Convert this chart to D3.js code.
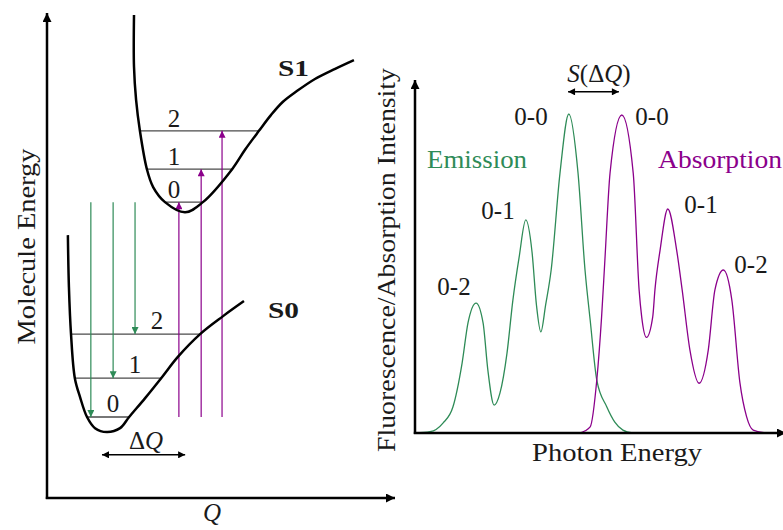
<!DOCTYPE html>
<html>
<head>
<meta charset="utf-8">
<script src="https://cdn.jsdelivr.net/npm/d3@7"></script>
<style>
  body { margin: 0; background: #fff; }
</style>
</head>
<body>
<div id="chart"></div>
<script>
var svgWidth = 783;
var svgHeight = 530;

var green = "#2e8b57";
var purple = "#8b008b";
var serifFont = "Liberation Serif";

// ---- left panel data (Q, energy) ----
var s1Curve = [[2.50, 9.96], [2.50, 8.89], [2.56, 8.21], [2.67, 7.57], [2.87, 6.78], [3.05, 6.41],
  [3.39, 6.10], [3.97, 5.89], [4.48, 6.10], [5.32, 6.78], [5.69, 7.18], [6.09, 7.57],
  [6.44, 7.90], [6.78, 8.17], [7.18, 8.39], [7.70, 8.64], [8.28, 8.85], [8.82, 9.03]];
var s0Curve = [[0.60, 5.42], [0.63, 4.35], [0.69, 3.38], [0.80, 2.47], [0.95, 2.08], [1.15, 1.67],
  [1.38, 1.44], [1.72, 1.36], [2.10, 1.44], [2.36, 1.67], [2.82, 2.06], [3.28, 2.47],
  [3.76, 2.91], [4.40, 3.38], [5.06, 3.75], [5.66, 4.06]];

var levelNames = ["0", "1", "2"];
var s1LevelE = [6.10, 6.78, 7.57];
var s1LevelQ0 = [3.39, 2.87, 2.67];
var s1LevelQ1 = [4.48, 5.32, 6.09];
var s0LevelE = [1.67, 2.47, 3.38];
var s0LevelQ0 = [1.15, 0.80, 0.69];
var s0LevelQ1 = [2.36, 3.28, 4.40];

var emissionQ = [1.26, 1.90, 2.53];
var absorptionQ = [3.79, 4.43, 5.03];

// ---- right panel data (photon energy, intensity) ----
var emissionSpectrum = [[0.0, 0.000], [4.1, 0.004], [7.6, 0.031], [10.3, 0.081], [12.8, 0.218],
  [14.4, 0.343], [16.6, 0.405], [18.5, 0.343], [19.8, 0.196], [21.5, 0.087], [23.1, 0.125],
  [25.0, 0.249], [26.6, 0.414], [28.3, 0.548], [30.1, 0.664], [31.8, 0.564], [33.0, 0.399],
  [34.2, 0.315], [35.5, 0.399], [37.0, 0.508], [39.4, 0.810], [41.8, 0.994], [44.3, 0.810],
  [46.2, 0.508], [47.6, 0.352], [49.4, 0.165], [52.1, 0.082], [54.3, 0.034], [56.5, 0.009],
  [59.2, 0.000]];
var absorptionSpectrum = [[44.8, 0.000], [47.6, 0.019], [49.4, 0.165], [50.7, 0.361], [51.6, 0.539],
  [53.0, 0.810], [56.2, 0.991], [59.3, 0.810], [60.9, 0.446], [61.6, 0.362], [62.9, 0.298],
  [64.6, 0.362], [65.2, 0.446], [66.6, 0.570], [68.7, 0.698], [71.1, 0.570], [72.6, 0.446],
  [74.7, 0.259], [77.2, 0.155], [79.7, 0.259], [81.5, 0.446], [83.8, 0.508], [86.1, 0.414],
  [88.3, 0.156], [90.1, 0.051], [91.9, 0.009], [95.6, 0.000]];

var peakLabels = ["0-0", "0-1", "0-2"];

var svg = d3.select("#chart")
  .append("svg")
  .attr("width", svgWidth)
  .attr("height", svgHeight);

// arrowheads
var defs = svg.append("defs");
function addMarker(id, color, w, h) {
  defs.append("marker")
    .attr("id", id)
    .attr("viewBox", "0 0 10 10")
    .attr("refX", 10)
    .attr("refY", 5)
    .attr("markerUnits", "userSpaceOnUse")
    .attr("markerWidth", w)
    .attr("markerHeight", h)
    .attr("orient", "auto-start-reverse")
    .append("path")
    .attr("d", "M0,0L10,5L0,10z")
    .attr("fill", color);
}
addMarker("arrGreen", green, 8, 7);
addMarker("arrPurple", purple, 8, 7);
addMarker("arrAxis", "#000", 11, 9);
addMarker("arrSmall", "#000", 9, 7);

// scales
var qScale = d3.scaleLinear().domain([0, 10]).range([47, 395]);
var eScale = d3.scaleLinear().domain([0, 10]).range([498, 13]);
var xE = d3.scaleLinear().domain([0, 100]).range([415, 783]);
var yI = d3.scaleLinear().domain([0, 1.1]).range([433, 80]);

function label(g, x, y, str) {
  return g.append("text")
    .attr("x", x).attr("y", y)
    .attr("font-family", serifFont)
    .attr("font-size", 25)
    .attr("fill", "#1a1a1a")
    .text(str);
}

// ===== left panel =====
var left = svg.append("g");

// axes
left.append("line")
  .attr("x1", qScale(0)).attr("y1", eScale(0) + 1)
  .attr("x2", qScale(0)).attr("y2", eScale(10))
  .attr("stroke", "#000").attr("stroke-width", 2.5)
  .attr("marker-end", "url(#arrAxis)");
left.append("line")
  .attr("x1", qScale(0) - 1.2).attr("y1", eScale(0))
  .attr("x2", qScale(10)).attr("y2", eScale(0))
  .attr("stroke", "#000").attr("stroke-width", 2.5)
  .attr("marker-end", "url(#arrAxis)");

label(left, 0, 0, "Molecule Energy")
  .attr("transform", `translate(35, ${(eScale(0) + eScale(10)) / 2 - 9}) rotate(-90)`)
  .attr("text-anchor", "middle")
  .attr("textLength", 196)
  .attr("lengthAdjust", "spacingAndGlyphs");

label(left, 212, 521, "Q")
  .attr("text-anchor", "middle")
  .attr("font-style", "italic");

// vibrational levels
function drawLevels(levelE, q0, q1) {
  left.selectAll(null)
    .data(levelE)
    .enter()
    .append("line")
    .attr("x1", (d, i) => qScale(q0[i]))
    .attr("x2", (d, i) => qScale(q1[i]))
    .attr("y1", d => eScale(d))
    .attr("y2", d => eScale(d))
    .attr("stroke", "#4a4a4a")
    .attr("stroke-width", 1.3);
}
drawLevels(s1LevelE, s1LevelQ0, s1LevelQ1);
drawLevels(s0LevelE, s0LevelQ0, s0LevelQ1);

// level numbers
var s1LabelQ = [3.65, 3.65, 3.65];
var s0LabelQ = [1.90, 2.53, 3.16];
levelNames.forEach(function(d, i) {
  label(left, qScale(s1LabelQ[i]), eScale(s1LevelE[i]) - 4, d).attr("text-anchor", "middle");
  label(left, qScale(s0LabelQ[i]), eScale(s0LevelE[i]) - 5, d).attr("text-anchor", "middle");
});

// emission transitions (down)
left.selectAll(null)
  .data(emissionQ)
  .enter()
  .append("line")
  .attr("x1", d => qScale(d)).attr("x2", d => qScale(d))
  .attr("y1", eScale(s1LevelE[0]))
  .attr("y2", (d, i) => eScale(s0LevelE[i]))
  .attr("stroke", green)
  .attr("stroke-width", 1.2)
  .attr("marker-end", "url(#arrGreen)");

// absorption transitions (up)
left.selectAll(null)
  .data(absorptionQ)
  .enter()
  .append("line")
  .attr("x1", d => qScale(d)).attr("x2", d => qScale(d))
  .attr("y1", eScale(s0LevelE[0]))
  .attr("y2", (d, i) => eScale(s1LevelE[i]))
  .attr("stroke", purple)
  .attr("stroke-width", 1.2)
  .attr("marker-end", "url(#arrPurple)");

// potential curves
var potLine = d3.line()
  .x(d => qScale(d[0]))
  .y(d => eScale(d[1]))
  .curve(d3.curveCatmullRom.alpha(0.5));

left.append("path")
  .datum(s1Curve)
  .attr("d", potLine)
  .attr("fill", "none")
  .attr("stroke", "#000")
  .attr("stroke-width", 2.5);
left.append("path")
  .datum(s0Curve)
  .attr("d", potLine)
  .attr("fill", "none")
  .attr("stroke", "#000")
  .attr("stroke-width", 2.5);

label(left, 278, 76, "S1")
  .attr("font-size", 23)
  .attr("font-weight", "bold")
  .attr("textLength", 31)
  .attr("lengthAdjust", "spacingAndGlyphs");
label(left, 268, 318, "S0")
  .attr("font-size", 23)
  .attr("font-weight", "bold")
  .attr("textLength", 31)
  .attr("lengthAdjust", "spacingAndGlyphs");

// delta Q arrow
left.append("line")
  .attr("x1", qScale(1.58)).attr("x2", qScale(3.97))
  .attr("y1", eScale(0.89)).attr("y2", eScale(0.89))
  .attr("stroke", "#000").attr("stroke-width", 1.5)
  .attr("marker-start", "url(#arrSmall)")
  .attr("marker-end", "url(#arrSmall)");
var dq = label(left, 146, 449, "").attr("text-anchor", "middle");
dq.append("tspan").text("\u0394");
dq.append("tspan").attr("font-style", "italic").text("Q");

// ===== right panel =====
var right = svg.append("g");

var specLine = d3.line()
  .x(d => xE(d[0]))
  .y(d => yI(d[1]))
  .curve(d3.curveMonotoneX);

right.append("path")
  .datum(emissionSpectrum)
  .attr("d", specLine)
  .attr("fill", "none")
  .attr("stroke", green)
  .attr("stroke-width", 1.3);
right.append("path")
  .datum(absorptionSpectrum)
  .attr("d", specLine)
  .attr("fill", "none")
  .attr("stroke", purple)
  .attr("stroke-width", 1.3);

// axes
right.append("line")
  .attr("x1", xE(0)).attr("y1", yI(0) + 1)
  .attr("x2", xE(0)).attr("y2", yI(1.1))
  .attr("stroke", "#000").attr("stroke-width", 2.5)
  .attr("marker-end", "url(#arrAxis)");
right.append("line")
  .attr("x1", xE(0) - 1.2).attr("y1", yI(0))
  .attr("x2", xE(100) + 3).attr("y2", yI(0))
  .attr("stroke", "#000").attr("stroke-width", 2.5)
  .attr("marker-end", "url(#arrAxis)");

label(right, 0, 0, "Fluorescence/Absorption Intensity")
  .attr("transform", "translate(395, 260) rotate(-90)")
  .attr("text-anchor", "middle")
  .attr("textLength", 384)
  .attr("lengthAdjust", "spacingAndGlyphs");

label(right, 617, 461, "Photon Energy")
  .attr("text-anchor", "middle")
  .attr("textLength", 170)
  .attr("lengthAdjust", "spacingAndGlyphs");

label(right, 477, 168, "Emission")
  .attr("text-anchor", "middle")
  .attr("textLength", 100)
  .attr("lengthAdjust", "spacingAndGlyphs")
  .attr("fill", green);
label(right, 658, 168, "Absorption")
  .attr("textLength", 124)
  .attr("lengthAdjust", "spacingAndGlyphs")
  .attr("fill", purple);

// peak labels
var emLabelPos = [[531, 125], [498, 219], [454, 295]];
var abLabelPos = [[652, 125], [701, 213], [751, 273]];
peakLabels.forEach(function(d, i) {
  label(right, emLabelPos[i][0], emLabelPos[i][1], d).attr("text-anchor", "middle");
  label(right, abLabelPos[i][0], abLabelPos[i][1], d).attr("text-anchor", "middle");
});

// Stokes shift arrow
right.append("line")
  .attr("x1", xE(41.6)).attr("x2", xE(55.4))
  .attr("y1", yI(1.063)).attr("y2", yI(1.063))
  .attr("stroke", "#000").attr("stroke-width", 1.5)
  .attr("marker-start", "url(#arrSmall)")
  .attr("marker-end", "url(#arrSmall)");
var sdq = label(right, 599, 82, "").attr("text-anchor", "middle");
sdq.append("tspan").attr("font-style", "italic").text("S");
sdq.append("tspan").text("(\u0394");
sdq.append("tspan").attr("font-style", "italic").text("Q");
sdq.append("tspan").text(")");
</script>
</body>
</html>
